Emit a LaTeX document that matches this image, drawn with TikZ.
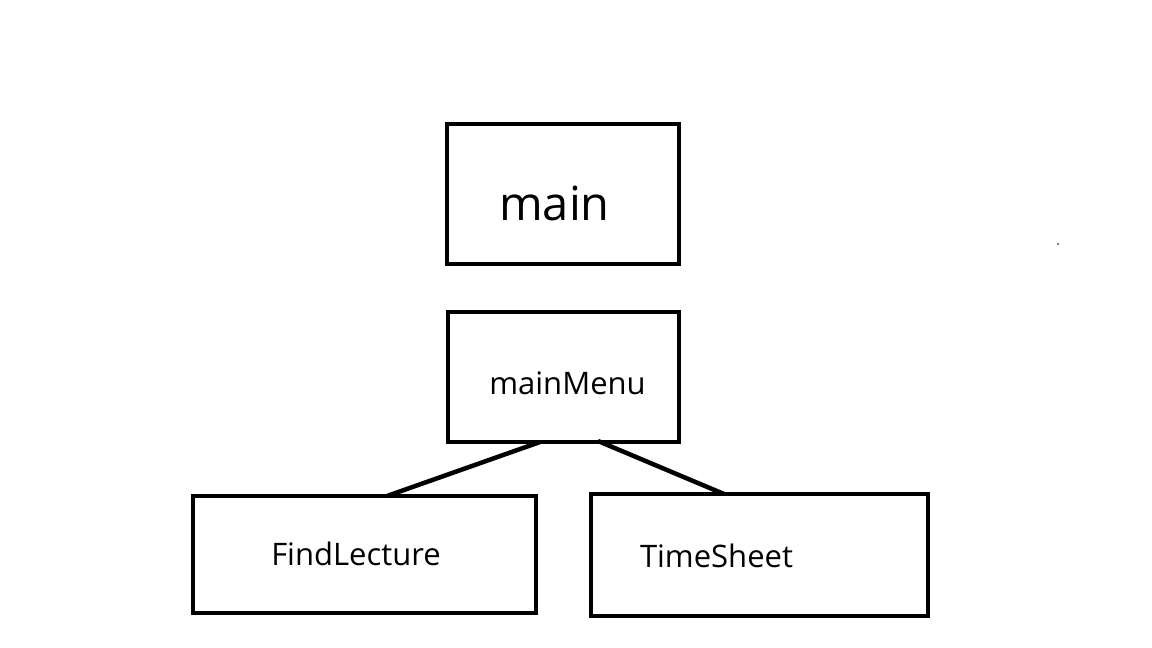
\documentclass[tikz,border=0pt]{standalone}
\usepackage{fontspec}
\setmainfont{Open Sans}
\usepackage{tikz}
\usetikzlibrary{positioning}
\usetikzlibrary{calc}

\begin{document}
\begin{tikzpicture}[x=1pt, y=-1pt,
  box/.style={draw, line width=4.5pt, rectangle, inner sep=0pt, outer sep=0pt},
  lbl/.style={inner sep=0pt, anchor=base, font=\fontsize{31}{31}\selectfont},
  link/.style={line width=4.5pt}]
\useasboundingbox (0,0) rectangle (1152,648);
%Boxes
\node[box, minimum width=232pt, minimum height=140pt] (main) at (563, 194) {};
\node[box, minimum width=231pt, minimum height=130pt] (menu) at (563.5, 377) {};
\node[box, minimum width=343pt, minimum height=117pt] (find) at (364.5, 554.5) {};
\node[box, minimum width=337pt, minimum height=122pt] (sheet) at (759.5, 555) {};

%Labels
\node[lbl, font=\fontsize{47}{47}\selectfont] (mainT) at (554.5, 220) {main};
\node[lbl] (menuT) at (567.5, 394) {mainMenu};
\node[lbl] (findT) at (356, 565) {FindLecture};
\node[lbl] (sheetT) at (716.5, 567) {TimeSheet};

%Links
\draw[link] ([xshift=-23.5pt]menu.south) -- ([xshift=22.5pt]find.north);
\draw[link] ([xshift=34.5pt, yshift=1pt]menu.south) -- ([xshift=-35.5pt]sheet.north);

\fill (1058, 244) circle (0.8pt);
\end{tikzpicture}
\end{document}
